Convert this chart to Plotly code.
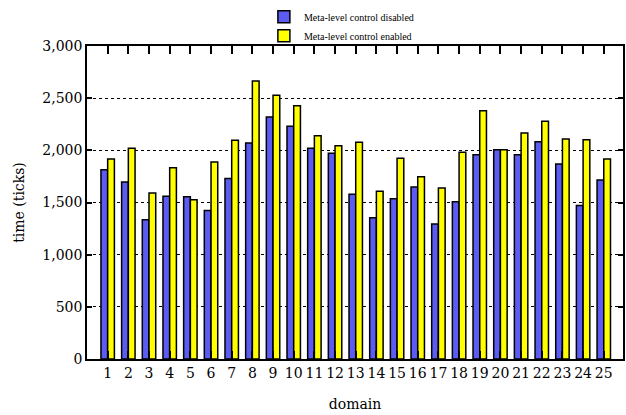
import plotly.graph_objects as go

domains = list(range(1, 26))
tick_labels = [str(d) for d in domains]
disabled = [1814, 1696, 1334, 1561, 1555, 1424, 1731, 2070, 2320, 2230, 2019, 1971, 1578,
            1353, 1535, 1648, 1293, 1507, 1958, 2006, 1958, 2083, 1869, 1472, 1715]
enabled = [1916, 2019, 1590, 1833, 1526, 1888, 2096, 2665, 2528, 2428, 2140, 2044, 2077,
           1609, 1923, 1747, 1638, 1981, 2380, 2006, 2166, 2278, 2109, 2102, 1917]

FONT = "DejaVu Serif"

fig = go.Figure()
fig.add_trace(go.Bar(x=domains, y=disabled, name="Meta-level control disabled",
                     marker=dict(color="#5c5cf2", line=dict(color="black", width=1.5))))
fig.add_trace(go.Bar(x=domains, y=enabled, name="Meta-level control enabled",
                     marker=dict(color="#ffff00", line=dict(color="black", width=1.5))))

fig.update_layout(
    width=626, height=415,
    margin=dict(l=87, r=1, t=46, b=56),
    paper_bgcolor="white", plot_bgcolor="white",
    barmode="group", bargap=0.35, bargroupgap=0,
    font=dict(family=FONT, size=14, color="black"),
    showlegend=True,
    legend=dict(x=0.33, y=1.14, xanchor="left", yanchor="top",
                font=dict(family="Liberation Serif", size=10),
                bgcolor="rgba(0,0,0,0)", itemwidth=30, tracegroupgap=0),
    xaxis=dict(
        range=[0, 25.93], tickmode="array", tickvals=domains, ticktext=tick_labels,
        showgrid=False, zeroline=False,
        showline=True, linecolor="black", linewidth=1.5, mirror="ticks",
        ticks="inside", ticklen=8, tickcolor="black", tickwidth=1.5,
        tickfont=dict(family=FONT, size=14),
        title=dict(text="domain", standoff=20, font=dict(family=FONT, size=14)),
    ),
    yaxis=dict(
        range=[0, 3000], tickmode="array",
        tickvals=[0, 500, 1000, 1500, 2000, 2500, 3000],
        ticktext=["0", "500", "1,000", "1,500", "2,000", "2,500", "3,000"],
        showgrid=True, gridcolor="black", gridwidth=1.3, griddash="3px,3px",
        zeroline=False,
        showline=True, linecolor="black", linewidth=1.5, mirror="ticks",
        ticks="inside", ticklen=5, tickcolor="black", tickwidth=1.5,
        tickfont=dict(family=FONT, size=14),
        title=dict(text="time (ticks)", standoff=14, font=dict(family=FONT, size=14)),
    ),
)

fig.write_html("out.html", config={"displayModeBar": False},
               post_script="document.body.style.margin='0';")
